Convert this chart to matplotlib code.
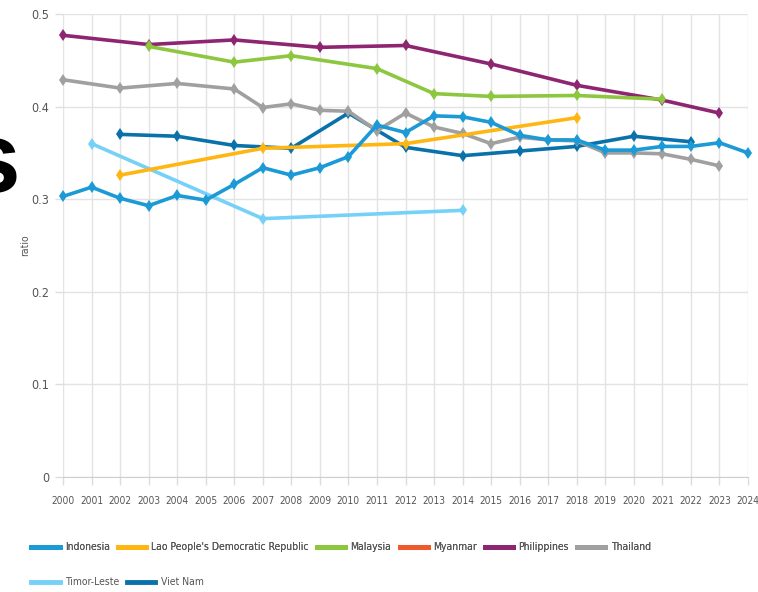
"""Ratio by country, 2000-2024 (line chart with legend below)."""

import matplotlib
matplotlib.use("Agg")
import matplotlib.pyplot as plt
from matplotlib.lines import Line2D

plt.rcParams['font.family'] = ['DejaVu Sans']
plt.rcParams['font.stretch'] = 'condensed'

years = list(range(2000, 2025))

countries = ["Indonesia", "Lao People's Democratic Republic", "Malaysia", "Myanmar",
             "Philippines", "Thailand", "Timor-Leste", "Viet Nam"]
colors = ["#1b9ad6", "#ffb612", "#8dc63f", "#f0592b", "#8e2571", "#a0a0a0",
          "#75d1f8", "#0a72aa"]

indonesia_x = list(range(2000, 2025))
indonesia_y = [0.303, 0.313, 0.301, 0.293, 0.304, 0.299, 0.316, 0.334, 0.326, 0.334,
               0.346, 0.380, 0.372, 0.390, 0.389, 0.383, 0.369, 0.364, 0.364, 0.353,
               0.353, 0.357, 0.357, 0.361, 0.350]
lao_x = [2002, 2007, 2012, 2018]
lao_y = [0.326, 0.355, 0.360, 0.388]
malaysia_x = [2003, 2006, 2008, 2011, 2013, 2015, 2018, 2021]
malaysia_y = [0.465, 0.448, 0.455, 0.441, 0.414, 0.411, 0.412, 0.408]
myanmar_x = []
myanmar_y = []
philippines_x = [2000, 2003, 2006, 2009, 2012, 2015, 2018, 2021, 2023]
philippines_y = [0.477, 0.467, 0.472, 0.464, 0.466, 0.446, 0.423, 0.407, 0.393]
thailand_x = [2000, 2002, 2004, 2006, 2007, 2008, 2009, 2010, 2011, 2012, 2013, 2014,
              2015, 2016, 2017, 2018, 2019, 2020, 2021, 2022, 2023]
thailand_y = [0.429, 0.420, 0.425, 0.419, 0.399, 0.403, 0.396, 0.395, 0.374, 0.393,
              0.378, 0.371, 0.360, 0.367, 0.364, 0.363, 0.350, 0.350, 0.349, 0.343, 0.336]
timor_x = [2001, 2007, 2014]
timor_y = [0.360, 0.279, 0.288]
vietnam_x = [2002, 2004, 2006, 2008, 2010, 2012, 2014, 2016, 2018, 2020, 2022]
vietnam_y = [0.370, 0.368, 0.358, 0.355, 0.393, 0.356, 0.347, 0.352, 0.357, 0.368, 0.362]

series_x = [indonesia_x, lao_x, malaysia_x, myanmar_x, philippines_x, thailand_x,
            timor_x, vietnam_x]
series_y = [indonesia_y, lao_y, malaysia_y, myanmar_y, philippines_y, thailand_y,
            timor_y, vietnam_y]

y_ticks = [0, 0.1, 0.2, 0.3, 0.4, 0.5]
y_labels = ["0", "0.1", "0.2", "0.3", "0.4", "0.5"]

fig = plt.figure(figsize=(7.58, 5.92), dpi=100)
ax = fig.add_axes([63 / 758, 1 - 477 / 592, 685 / 758, 463 / 592])

# first series drawn on top
for i in reversed(range(len(countries))):
    if not series_x[i]:
        continue
    ax.plot(series_x[i], series_y[i], color=colors[i], lw=2.6, marker='d',
            ms=6.5, mew=0, solid_joinstyle='round', zorder=3 + (len(countries) - i) * 0.1,
            clip_on=False)

ax.set_xlim(2000, 2024)
ax.set_ylim(0, 0.5)
ax.set_xticks(years)
ax.set_xticklabels([str(y) for y in years])
ax.set_yticks(y_ticks)
ax.set_yticklabels(y_labels)
ax.grid(True, color="#e3e3e3", lw=1)
ax.set_axisbelow(True)
for side in ['top', 'right', 'left']:
    ax.spines[side].set_visible(False)
ax.spines['bottom'].set_color("#cfcfcf")
ax.tick_params(axis='both', colors="#dddddd", length=6, width=1, labelsize=9,
               labelcolor="#555555")
ax.tick_params(axis='x', pad=8, labelsize=7.3)
ax.tick_params(axis='y', pad=4)
ax.set_ylabel("ratio", fontsize=7.5, color="#555555")
ax.yaxis.set_label_coords(-0.048, 0.5)

# cropped heading fragment at the left edge
fig.text(20 / 758, 1 - 192 / 592, "s", ha='right', va='baseline', fontsize=72,
         fontweight='bold', fontstretch='normal', family=['Liberation Sans', 'DejaVu Sans'],
         color='black')

handles = [Line2D([], [], color=c, lw=3.5) for c in colors]
leg_kw = dict(loc='upper left', frameon=False, fontsize=7.5, handlelength=2.7,
              handletextpad=0.5, columnspacing=0.8, labelcolor="#555555")
leg1 = fig.legend(handles[:6], countries[:6], ncol=6,
                  bbox_to_anchor=(22 / 758, 1 - 533 / 592), **leg_kw)
fig.add_artist(leg1)
fig.legend(handles[6:], countries[6:], ncol=2,
           bbox_to_anchor=(22 / 758, 1 - 568 / 592), **leg_kw)

fig.savefig("out.png", dpi=100)
